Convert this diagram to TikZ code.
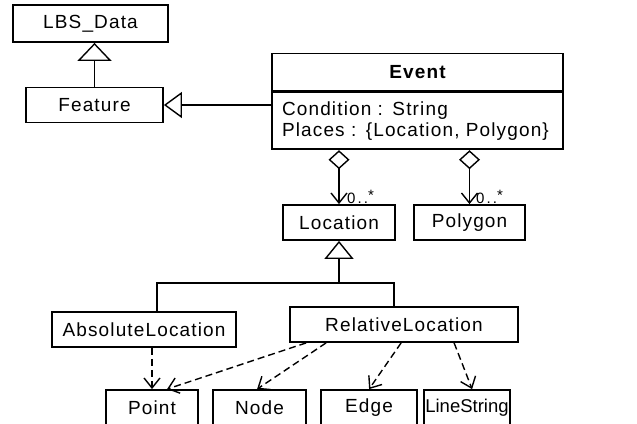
\documentclass[tikz,border=0pt]{standalone}
\usepackage{fontspec}
\setmainfont{Liberation Sans}[LetterSpace=6]
\newfontfamily\lblfont{Liberation Sans}[LetterSpace=14]
\newfontfamily\tightfont{Liberation Sans}
\usetikzlibrary{arrows.meta}
\tikzset{
  box/.style={draw, line width=1.8pt, inner sep=0pt, font=\fontsize{19}{22}\selectfont, anchor=center},
  conn/.style={line width=1.4pt},
  gen/.style={conn, -{Triangle[open, length=18pt, width=#1, line width=1.4pt]}},
  agg/.style={conn, {Diamond[open, length=19pt, width=21pt, line width=1.4pt]}-{Straight Barb[length=10pt, width=16pt, line width=1.4pt]}},
  dep/.style={conn, dash pattern=on 7pt off 4pt, -{Straight Barb[length=10pt, width=16pt, line width=1.4pt]}},
  mult/.style={font=\lblfont\fontsize{15}{17}\selectfont, inner sep=0pt, anchor=west}
}
\begin{document}
\begin{tikzpicture}[x=1pt, y=-1pt]
\useasboundingbox (0,0) rectangle (637,423);
\clip (0,0) rectangle (637,423);
% classes
\node[box, minimum width=155pt, minimum height=37pt] (lbs) at (90.5,23.5) {LBS\_Data};
\node[box, minimum width=137pt, minimum height=35pt] (feature) at (94.5,105) {Feature};
\node[box, minimum width=291pt, minimum height=37pt, font=\bfseries\fontsize{19}{22}\selectfont] (event) at (417.5,72) {Event};
\node[box, minimum width=291pt, minimum height=57pt, anchor=north, align=left, text width=271pt, font=\fontsize{19}{21}\selectfont] (eventbody) at (event.south) {Condition : String\\Places : \{Location, Polygon\}};
\node[box, minimum width=112pt, minimum height=35pt] (location) at (339,222.5) {Location};
\node[box, minimum width=111pt, minimum height=35pt] (polygon) at (469.5,222.5) {Polygon};
\node[box, minimum width=184pt, minimum height=35pt] (absolute) at (144,329.5) {AbsoluteLocation};
\node[box, minimum width=228pt, minimum height=35pt] (relative) at (404,324.5) {RelativeLocation};
\node[box, minimum width=92pt, minimum height=36pt] (point) at (152,408) {Point};
\node[box, minimum width=93pt, minimum height=36pt] (nodecls) at (259.5,408) {Node};
\node[box, minimum width=96pt, minimum height=36pt] (edge) at (369,408) {Edge};
\node[box, minimum width=86pt, minimum height=36pt, font=\tightfont\fontsize{18.5}{21}\selectfont] (linestring) at (467,408) {LineString};
% generalizations
\draw[gen=34pt] (feature.north) -- (feature.north |- lbs.south);
\draw[gen=26pt] (feature.east -| eventbody.west) -- (feature.east);
\coordinate (jm) at (339,283);
\coordinate (jl) at (157,283);
\coordinate (jr) at (394,283);
\draw[gen=29pt] (jm) -- (location.south);
\draw[conn] (absolute.north -| jl) -- (jl) -- (jr) -- (relative.north -| jr);
% aggregations
\draw[agg] (eventbody.south -| location.north) -- (location.north);
\draw[agg] (eventbody.south -| polygon.north) -- (polygon.north);
\node[mult] (m1) at (347,197) {0..\raisebox{0.3ex}{*}};
\node[mult] (m2) at (476,197) {0..\raisebox{0.3ex}{*}};
% dependencies
\draw[dep] (absolute.south -| point.north) -- (point.north);
\draw[dep] ([xshift=17pt]relative.south west) -- ([xshift=62pt]point.north west);
\draw[dep] ([xshift=37pt]relative.south west) -- ([xshift=45pt]nodecls.north west);
\draw[dep] ([xshift=112pt]relative.south west) -- ([xshift=49pt]edge.north west);
\draw[dep] ([xshift=165pt]relative.south west) -- ([xshift=49pt]linestring.north west);
\end{tikzpicture}
\end{document}
